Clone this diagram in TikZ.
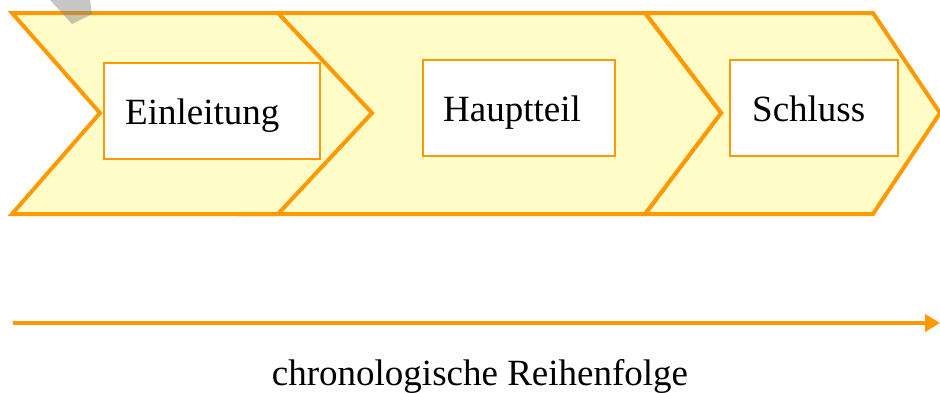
\documentclass[tikz,border=0pt]{standalone}
\usepackage{fontspec}
\setmainfont{Liberation Serif}
\usetikzlibrary{arrows.meta}
\definecolor{orng}{RGB}{255,153,0}
\definecolor{lyel}{RGB}{255,252,200}
\tikzset{
  chev/.style={draw=orng, line width=4pt, fill=lyel, line join=miter},
  tbox/.style={draw=orng, line width=2pt, fill=white, inner sep=0pt, rectangle},
  lbl/.style={inner sep=0pt, anchor=base west, font=\fontsize{37}{40}\selectfont},
  timeline/.style={draw=orng, line width=4pt, -{Triangle[length=15pt,width=17pt]}}
}
\begin{document}
\begin{tikzpicture}[x=1pt,y=-1pt]
\useasboundingbox (0,0) rectangle (940,392);
\begin{scope}
\clip (0,0) rectangle (940,392);
% chevrons
\draw[chev] (645,13) -- (873,13) -- (940,113) -- (873,214) -- (645,214) -- (721,113) -- cycle;
\draw[chev] (240,13) -- (645,13) -- (721,113) -- (645,214) -- (240,214) -- (330,113) -- cycle;
\draw[chev] (12,13) -- (278,13) -- (372,113) -- (278,214) -- (12,214) -- (100,113) -- cycle;
\end{scope}
% boxes
\node[tbox, minimum width=216pt, minimum height=96pt] (b1) at (212,111) {};
\node[tbox, minimum width=192pt, minimum height=96pt] (b2) at (519,108) {};
\node[tbox, minimum width=168pt, minimum height=96pt] (b3) at (814,108) {};
% labels
\node[lbl] (t1) at (125,124) {Einleitung};
\node[lbl] (t2) at (443,121) {Hauptteil};
\node[lbl] (t3) at (752,121) {Schluss};
% timeline
\coordinate (a1) at (13,323);
\coordinate (a2) at (940,323);
\draw[timeline] (a1) -- (a2);
\node[inner sep=0pt, anchor=base, font=\fontsize{37}{40}\selectfont] (tl) at (480,385) {chronologische Reihenfolge};
% watermark fragment
\fill[gray, opacity=0.45] (50,0) -- (90,0) -- (92,14) -- (72,24) -- cycle;
\end{tikzpicture}
\end{document}
